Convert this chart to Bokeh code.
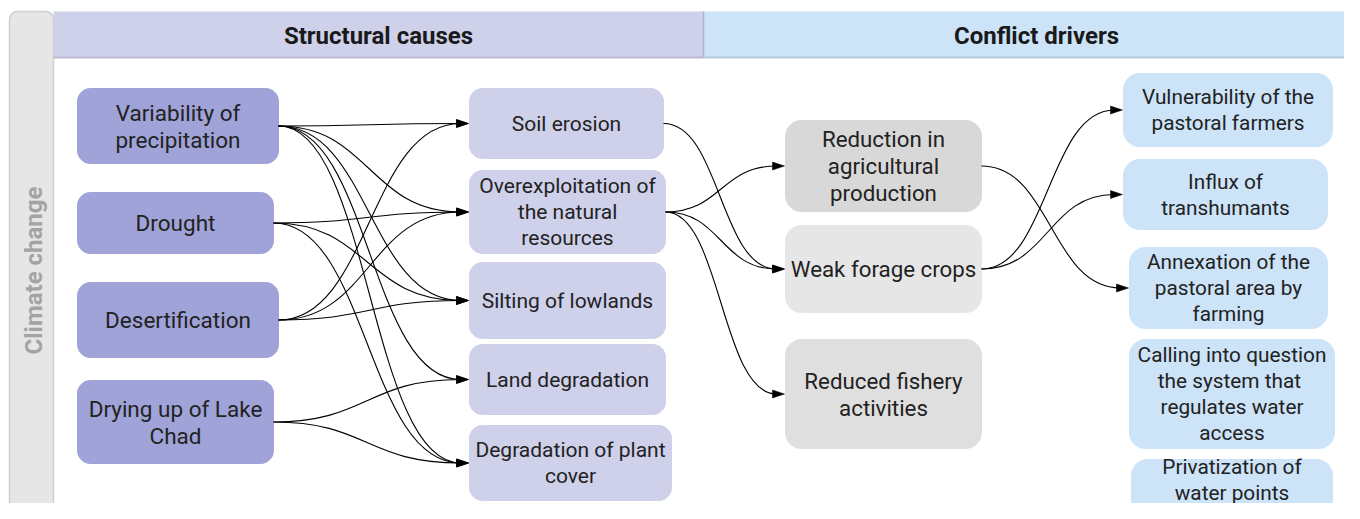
import numpy as np
from bokeh.plotting import figure
from bokeh.models import Range1d
from bokeh.embed import file_html
from bokeh.resources import INLINE
from bokeh.core.properties import value

# ---------------- data ----------------
climate_label = "Climate change"
section_titles = ["Structural causes", "Conflict drivers"]
climate_factors = ["Variability of\nprecipitation", "Drought", "Desertification",
                   "Drying up of Lake\nChad"]
structural_causes = ["Soil erosion", "Overexploitation of\nthe natural\nresources",
                     "Silting of lowlands", "Land degradation", "Degradation of plant\ncover"]
impacts = ["Reduction in\nagricultural\nproduction", "Weak forage crops",
           "Reduced fishery\nactivities"]
conflict_drivers = ["Vulnerability of the\npastoral farmers", "Influx of\ntranshumants",
                    "Annexation of the\npastoral area by\nfarming",
                    "Calling into question\nthe  system that\nregulates water\naccess",
                    "Privatization of\nwater points"]

# links (source index, target index)
links_factor_cause = [(0, 0), (0, 1), (0, 2), (0, 3), (0, 4),
                      (1, 1), (1, 2), (1, 4),
                      (2, 0), (2, 1), (2, 2),
                      (3, 3), (3, 4)]
links_cause_impact = [(0, 1), (1, 0), (1, 1), (1, 2)]
links_impact_driver = [(0, 2), (1, 0), (1, 1)]

# ---------------- layout (pixel boxes: left, top, right, bottom) ----------------
H = 519
layout_climate = [(77, 88, 278, 163), (77, 192, 273, 253), (77, 282, 278, 357), (77, 380, 273, 463)]
layout_causes = [(469, 88, 663, 158), (469, 170, 665, 253), (469, 262, 665, 338),
                 (469, 344, 665, 414), (469, 425, 671, 500)]
layout_impacts = [(785, 120, 981, 211), (785, 225, 981, 312), (785, 339, 981, 448)]
layout_drivers = [(1123, 73, 1332, 146), (1123, 159, 1327, 229), (1129, 247, 1327, 328),
                  (1129, 339, 1334, 448), (1131, 459, 1332, 517)]
text_shift_drivers = [0, 0, 0, 0, -9]

C_CLIMATE = "#9fa3d8"
C_CAUSE = "#cfd0ea"
C_DRIVER = "#cce3f8"
C_IMPACTS = ["#d8d8d8", "#e6e6e6", "#dfdfdf"]
TEXT_C = "#222222"
FONT = "Roboto"

p = figure(width=1344, height=503, output_backend="svg", toolbar_location=None,
           x_range=Range1d(0, 1344), y_range=Range1d(H - 503, H),
           min_border=0, background_fill_color="white", border_fill_color="white")
p.axis.visible = False
p.grid.visible = False
p.outline_line_color = None


def Y(v):
    return H - v


def rounded(x0, y0, x1, y1, r, top_only=False, n=10):
    xs, ys = [], []
    corners = [(x1 - r, y0 + r, -np.pi / 2, 0), (x1 - r, y1 - r, 0, np.pi / 2),
               (x0 + r, y1 - r, np.pi / 2, np.pi), (x0 + r, y0 + r, np.pi, 1.5 * np.pi)]
    for k, (cx, cy, a0, a1) in enumerate(corners):
        if top_only and k in (1, 2):
            xs.append(x1 if k == 1 else x0)
            ys.append(y1)
            continue
        t = np.linspace(a0, a1, n)
        xs.extend(cx + r * np.cos(t))
        ys.extend(cy + r * np.sin(t))
    return list(xs), [Y(v) for v in ys]


# ---- background band & headers ----
bx, by = rounded(9, 11, 53, 560, 8, top_only=True)
p.patch(bx, by, fill_color="#e6e6e6", line_color="#cfcfcf", line_width=1.5)

hy = [Y(11), Y(11), Y(57), Y(57)]
p.patch([53, 703, 703, 53], hy, fill_color=C_CAUSE, line_color=None)
p.patch([703, 1370, 1370, 703], hy, fill_color=C_DRIVER, line_color=None)
p.line([53, 703], [Y(57), Y(57)], line_color="#bbbccf", line_width=2)
p.line([703, 1370], [Y(57), Y(57)], line_color="#b5c9dc", line_width=2)
p.line([703, 703], [Y(11), Y(57)], line_color="#aeb0cc", line_width=1.5)

p.text([378, 1036], [Y(35), Y(35)], text=section_titles,
       text_align="center", text_baseline="middle", text_font=value(FONT),
       text_font_style="bold", text_font_size="24px", text_color="#1a1a1a")
p.text([33], [Y(270)], text=[climate_label], angle=np.pi / 2,
       text_align="center", text_baseline="middle", text_font=value(FONT),
       text_font_style="bold", text_font_size="24px", text_color="#a3a3a3")


# ---- nodes ----
def draw_nodes(labels, boxes, fills, r, fsize, lh, shifts=None):
    shifts = shifts or [0] * len(labels)
    for lab, (x0, y0, x1, y1), fc, sh in zip(labels, boxes, fills, shifts):
        xs, ys = rounded(x0, y0, x1, y1, r)
        p.patch(xs, ys, fill_color=fc, line_color=fc, line_width=1)
        lines = lab.split("\n")
        n = len(lines)
        cx = (x0 + x1) / 2
        cy = (y0 + y1) / 2 + sh
        tys = [Y(cy + (i - (n - 1) / 2) * lh) for i in range(n)]
        p.text([cx] * n, tys, text=lines, text_align="center", text_baseline="middle",
               text_font=value(FONT), text_font_size=fsize, text_color=TEXT_C)


draw_nodes(climate_factors, layout_climate, [C_CLIMATE] * 4, 13, "22.5px", 27)
draw_nodes(structural_causes, layout_causes, [C_CAUSE] * 5, 13, "21px", 26)
draw_nodes(impacts, layout_impacts, C_IMPACTS, 16, "22.3px", 27)
draw_nodes(conflict_drivers, layout_drivers, [C_DRIVER] * 5, 16, "20.8px", 26,
           text_shift_drivers)


# ---- links ----
def draw_links(links, src_boxes, dst_boxes):
    x0s, y0s, x1s, y1s, cx0, cy0, cx1, cy1 = [], [], [], [], [], [], [], []
    heads_x, heads_y = [], []
    for s, t in links:
        sb = src_boxes[s]
        tb = dst_boxes[t]
        sx, sy = sb[2], (sb[1] + sb[3]) / 2
        tx, ty = tb[0] - 1, (tb[1] + tb[3]) / 2
        ex = tx - 8
        dx = ex - sx
        x0s.append(sx); y0s.append(Y(sy))
        x1s.append(ex); y1s.append(Y(ty))
        cx0.append(sx + 0.5 * dx); cy0.append(Y(sy))
        cx1.append(ex - 0.5 * dx); cy1.append(Y(ty))
        heads_x.append([tx, tx - 12, tx - 12])
        heads_y.append([Y(ty), Y(ty - 4), Y(ty + 4)])
    p.bezier(x0=x0s, y0=y0s, x1=x1s, y1=y1s, cx0=cx0, cy0=cy0, cx1=cx1, cy1=cy1,
             line_color="black", line_width=1.1)
    p.patches(heads_x, heads_y, fill_color="black", line_color="black", line_width=0.5)


draw_links(links_factor_cause, layout_climate, layout_causes)
draw_links(links_cause_impact, layout_causes, layout_impacts)
draw_links(links_impact_driver, layout_impacts, layout_drivers)

open("out.html", "w").write(file_html(p, INLINE))
